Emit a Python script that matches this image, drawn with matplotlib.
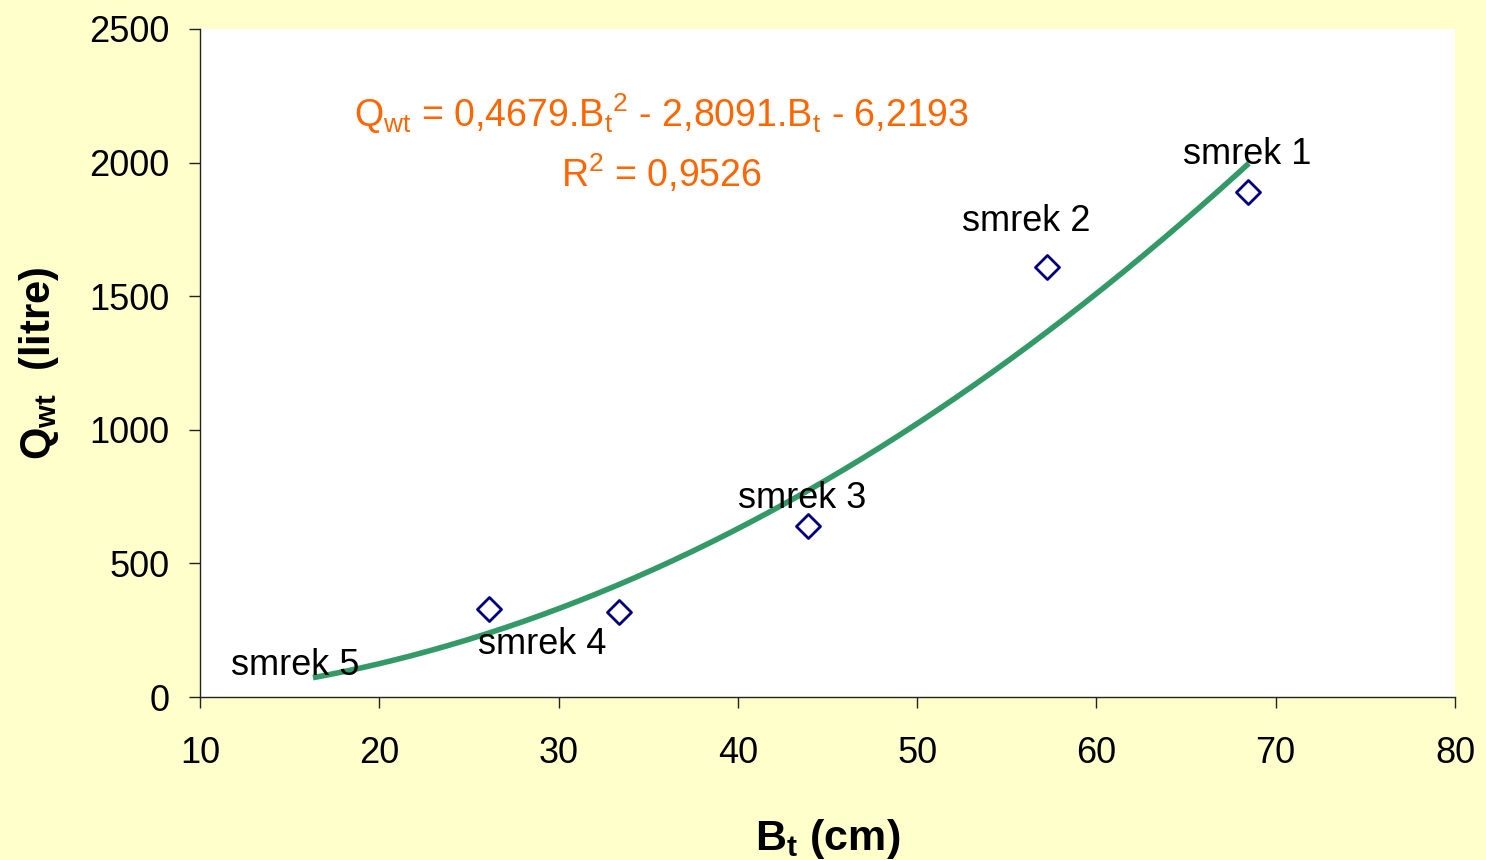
import numpy as np
import matplotlib.pyplot as plt

plt.rcParams['font.family'] = ['Liberation Sans', 'DejaVu Sans']
plt.rcParams['mathtext.fontset'] = 'custom'
plt.rcParams['mathtext.rm'] = 'Liberation Sans'
plt.rcParams['mathtext.it'] = 'Liberation Sans'
plt.rcParams['mathtext.bf'] = 'Liberation Sans:bold'

# dane: obwód Bt (cm) i objętość wody Qwt (litre)
bt = [68.45, 57.25, 43.9, 33.35, 26.1]
qwt = [1890, 1610, 640, 318, 330]

labels = ['smrek 1', 'smrek 2', 'smrek 3', 'smrek 4', 'smrek 5']
label_x = [68.4, 56.1, 43.6, 29.1, 15.3]
label_y = [2030, 1780, 742, 197, 118]

# trend wielomianowy (współczynniki z wykresu)
coef = [0.4679, -2.8091, -6.2193]
trend_range = [16.3, 68.5]

bg = '#FFFFCC'
fig = plt.figure(figsize=(14.86, 8.6), dpi=100, facecolor=bg)
ax = fig.add_axes([0.1346, 0.1895, 0.8445, 0.7768])
ax.set_facecolor('white')

xs = np.linspace(trend_range[0], trend_range[1], 300)
ax.plot(xs, np.polyval(coef, xs), color='#339966', lw=4, solid_capstyle='butt', zorder=2)
ax.scatter(bt, qwt, marker='D', s=150, facecolors='white', edgecolors='#000080',
           linewidths=2, zorder=3)

for t, x, y in zip(labels, label_x, label_y):
    ax.text(x, y, t, fontsize=26, ha='center', va='center', zorder=4)

eq = (r'Q$_{\mathregular{wt}}$ = 0,4679.B$_{\mathregular{t}}$$^{\mathregular{2}}$'
      r' - 2,8091.B$_{\mathregular{t}}$ - 6,2193')
ax.text(0.368, 0.873, eq, transform=ax.transAxes, fontsize=27, color='#FF6600',
        ha='center', va='center')
ax.text(0.368, 0.783, r'R$^{\mathregular{2}}$ = 0,9526', transform=ax.transAxes,
        fontsize=27, color='#FF6600', ha='center', va='center')

ax.set_xlim(10, 80)
ax.set_ylim(0, 2500)
ax.set_xticks(range(10, 81, 10))
ax.set_yticks(range(0, 2501, 500))
ax.tick_params(labelsize=26, length=8, width=1, color='#222222')
ax.tick_params(axis='x', pad=20)
ax.tick_params(axis='y', pad=14)
for s in ['top', 'right']:
    ax.spines[s].set_visible(False)
for s in ['left', 'bottom']:
    ax.spines[s].set_color('#222222')
    ax.spines[s].set_linewidth(1)

fig.text(828 / 1486, 1 - 850 / 860, r'B$_{\mathbf{t}}$ (cm)', fontsize=31,
         fontweight='bold', ha='center', va='baseline')
ax.set_ylabel(r'Q$_{\mathbf{wt}}$  (litre)', fontsize=30, fontweight='bold', labelpad=20)

plt.savefig('out.png', dpi=100, facecolor=bg)
